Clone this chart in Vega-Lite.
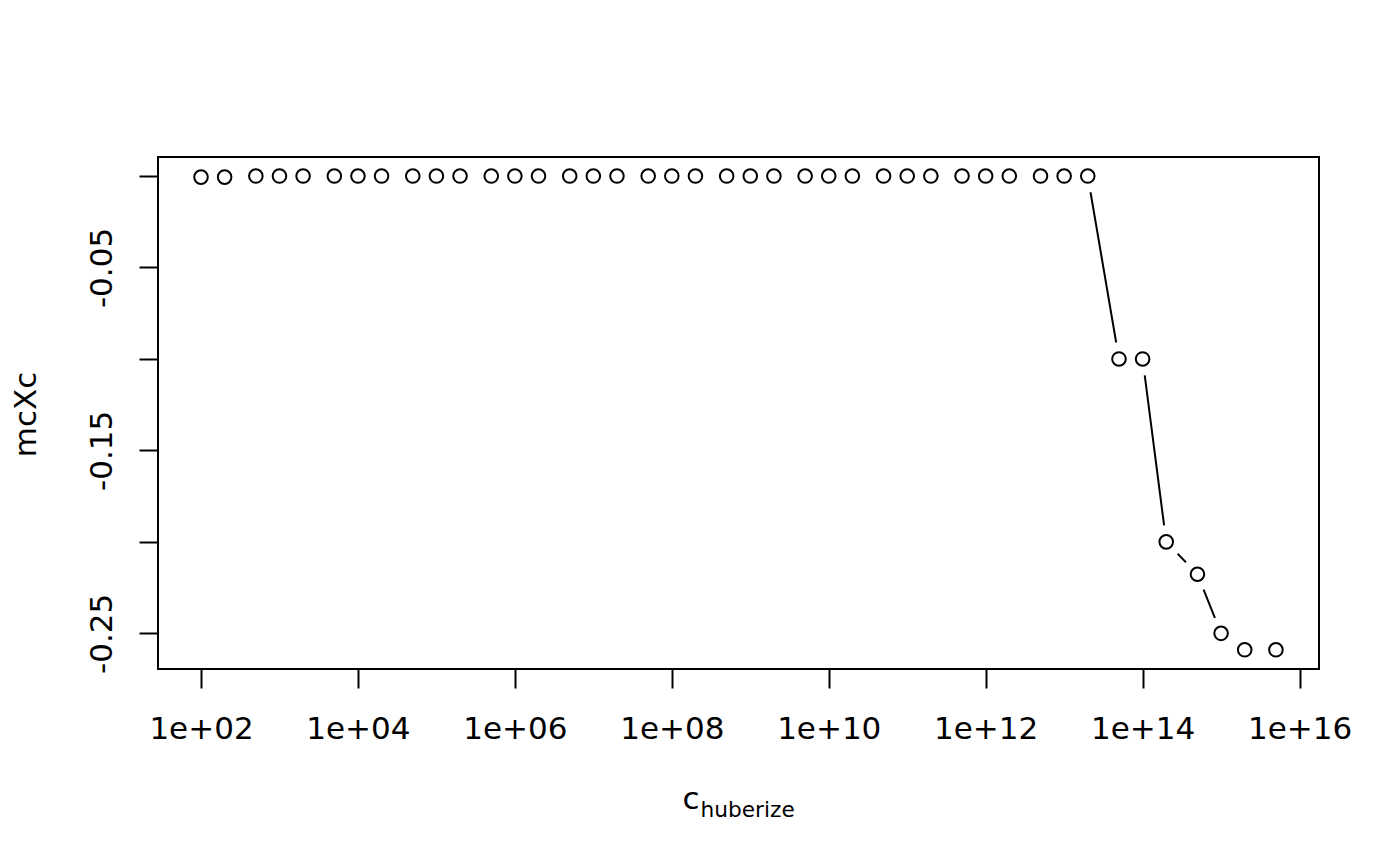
{
  "$schema": "https://vega.github.io/schema/vega-lite/v6.json",
  "autosize": {"type": "none"},
  "width": 1161,
  "height": 512,
  "padding": {"left": 158, "top": 157, "right": 81, "bottom": 197},
  "background": "white",
  "config": {
    "view": {"stroke": "black", "strokeWidth": 2},
    "font": "DejaVu Sans",
    "axis": {
      "labelFont": "DejaVu Sans",
      "titleFont": "DejaVu Sans",
      "labelColor": "black",
      "titleColor": "black",
      "titleFontWeight": "normal",
      "domainColor": "black",
      "domainWidth": 2,
      "tickColor": "black",
      "tickWidth": 2,
      "tickSize": 19,
      "grid": false,
      "labelFontSize": 31,
      "titleFontSize": 31
    }
  },
  "data": {
    "values": [
      {"c": 1e2, "mcXc": -0.0006},
      {"c": 2e2, "mcXc": -0.0006},
      {"c": 5e2, "mcXc": 0},
      {"c": 1e3, "mcXc": 0},
      {"c": 2e3, "mcXc": 0},
      {"c": 5e3, "mcXc": 0},
      {"c": 1e4, "mcXc": 0},
      {"c": 2e4, "mcXc": 0},
      {"c": 5e4, "mcXc": 0},
      {"c": 1e5, "mcXc": 0},
      {"c": 2e5, "mcXc": 0},
      {"c": 5e5, "mcXc": 0},
      {"c": 1e6, "mcXc": 0},
      {"c": 2e6, "mcXc": 0},
      {"c": 5e6, "mcXc": 0},
      {"c": 1e7, "mcXc": 0},
      {"c": 2e7, "mcXc": 0},
      {"c": 5e7, "mcXc": 0},
      {"c": 1e8, "mcXc": 0},
      {"c": 2e8, "mcXc": 0},
      {"c": 5e8, "mcXc": 0},
      {"c": 1e9, "mcXc": 0},
      {"c": 2e9, "mcXc": 0},
      {"c": 5e9, "mcXc": 0},
      {"c": 1e10, "mcXc": 0},
      {"c": 2e10, "mcXc": 0},
      {"c": 5e10, "mcXc": 0},
      {"c": 1e11, "mcXc": 0},
      {"c": 2e11, "mcXc": 0},
      {"c": 5e11, "mcXc": 0},
      {"c": 1e12, "mcXc": 0},
      {"c": 2e12, "mcXc": 0},
      {"c": 5e12, "mcXc": 0},
      {"c": 1e13, "mcXc": 0},
      {"c": 2e13, "mcXc": 0},
      {"c": 5e13, "mcXc": -0.1},
      {"c": 1e14, "mcXc": -0.1},
      {"c": 2e14, "mcXc": -0.2},
      {"c": 5e14, "mcXc": -0.2177},
      {"c": 1e15, "mcXc": -0.25},
      {"c": 2e15, "mcXc": -0.259},
      {"c": 5e15, "mcXc": -0.259}
    ]
  },
  "resolve": {"axis": {"x": "independent"}},
  "layer": [
    {
      "mark": {"type": "line", "color": "black", "strokeWidth": 2},
      "encoding": {
        "x": {
          "field": "c",
          "type": "quantitative",
          "scale": {"type": "log", "domain": [28.31, 1.770e16], "nice": false, "zero": false},
          "axis": {
            "orient": "bottom",
            "values": [1e2, 1e4, 1e6, 1e8, 1e10, 1e12, 1e14, 1e16],
            "labelExpr": "'1e+' + (round(log(datum.value)/LN10) < 10 ? '0' : '') + round(log(datum.value)/LN10)",
            "labelPadding": 26,
            "labelFlush": false,
            "labelOverlap": false,
            "domain": false,
            "title": "c",
            "titleX": 524,
            "titleY": 139,
            "titleAlign": "left",
            "titleAnchor": null,
            "titleBaseline": "alphabetic"
          }
        },
        "y": {
          "field": "mcXc",
          "type": "quantitative",
          "scale": {"domain": [-0.2695, 0.0104], "nice": false, "zero": false},
          "axis": {
            "values": [0, -0.05, -0.1, -0.15, -0.2, -0.25],
            "labelExpr": "(round(datum.value*100) % 10 != 0) ? '-' + format(abs(datum.value), '.2f') : ''",
            "labelAngle": 270,
            "labelAlign": "center",
            "labelBaseline": "alphabetic",
            "labelPadding": 28,
            "labelFlush": false,
            "labelOverlap": false,
            "domain": false,
            "title": "mcXc",
            "titleAngle": 270,
            "titleX": -123,
            "titleY": 257,
            "titleAlign": "center",
            "titleAnchor": null,
            "titleBaseline": "alphabetic"
          }
        }
      }
    },
    {
      "mark": {"type": "point", "shape": "circle", "filled": true, "color": "white", "opacity": 1, "size": 1100, "strokeWidth": 0},
      "encoding": {
        "x": {"field": "c", "type": "quantitative", "axis": null},
        "y": {"field": "mcXc", "type": "quantitative"}
      }
    },
    {
      "mark": {"type": "point", "shape": "circle", "filled": false, "color": "black", "opacity": 1, "size": 185, "strokeWidth": 2},
      "encoding": {
        "x": {
          "field": "c",
          "type": "quantitative",
          "axis": {
            "orient": "bottom",
            "labels": false,
            "ticks": false,
            "domain": false,
            "title": "huberize",
            "titleFontSize": 21.7,
            "titleX": 542,
            "titleY": 147,
            "titleAlign": "left",
            "titleAnchor": null,
            "titleBaseline": "alphabetic"
          }
        },
        "y": {"field": "mcXc", "type": "quantitative"}
      }
    }
  ]
}
